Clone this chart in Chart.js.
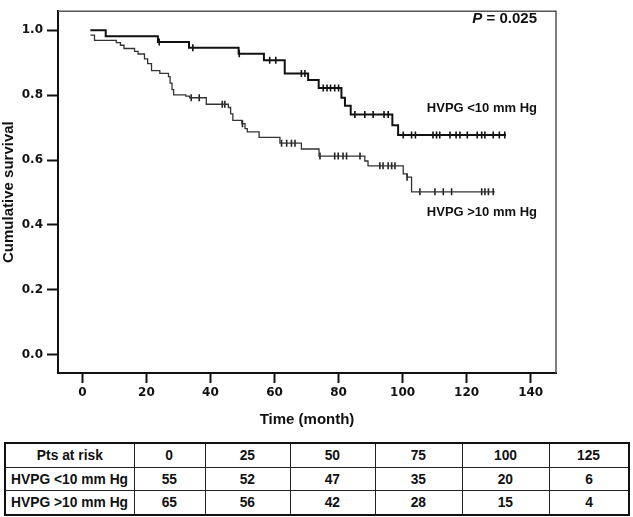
<!DOCTYPE html>
<html>
<head>
<meta charset="utf-8">
<script src="https://cdn.jsdelivr.net/npm/chart.js@4.4.0/dist/chart.umd.min.js"></script>
<style>
  html, body { margin:0; padding:0; background:#fff; }
  body { width:633px; height:517px; position:relative; overflow:hidden; font-family:"Liberation Sans", Arial, sans-serif; }
  #wrap { position:absolute; left:0; top:0; width:633px; height:441px; }
  table.risk { position:absolute; left:4px; top:442px; border-collapse:collapse; table-layout:fixed; width:624px; border:2px solid #111; }
  table.risk td { border:1px solid #222; height:22.5px; padding:0; text-align:center; font-weight:bold; font-size:15px; color:#111; line-height:20px; white-space:nowrap; overflow:visible; }
  table.risk td span { display:inline-block; transform:scaleX(0.92); transform-origin:center; }
</style>
</head>
<body>
<div id="wrap"><canvas id="c" width="633" height="441"></canvas></div>
<table class="risk" id="risk">
  <colgroup><col style="width:129px"><col style="width:71px"><col style="width:85px"><col style="width:85px"><col style="width:87px"><col style="width:87px"><col style="width:80px"></colgroup>
  <tbody></tbody>
</table>
<script>
// ---- data ----
const seriesLabels = ['HVPG <10 mm Hg', 'HVPG >10 mm Hg'];
const xTicks = [0, 20, 40, 60, 80, 100, 120, 140];
const yTicks = [0, 0.2, 0.4, 0.6, 0.8, 1.0];

const lowTime = [2.5, 7.3, 23.6, 33.3, 48.8, 56.7, 63.2, 70.5, 73.8, 80.9, 82.0, 83.8, 96.8, 98.6, 132.3];
const lowSurv = [1.0, 0.982, 0.964, 0.946, 0.928, 0.908, 0.867, 0.847, 0.822, 0.792, 0.767, 0.740, 0.707, 0.677, 0.677];
const lowCensor = [24.0, 34.5, 49.0, 58.5, 60.4, 68.4, 69.5, 75.2, 76.4, 77.5, 78.8, 80.0, 85.1, 88.2, 90.8, 94.2, 95.5,
  100.2, 102.8, 104.0, 109.5, 110.6, 111.6, 114.8, 116.7, 117.9, 120.2, 123.3, 124.7, 125.7, 128.3, 130.2, 131.9];

const highTime = [2.5, 3.8, 10.6, 11.9, 13.0, 16.3, 17.4, 19.4, 20.4, 21.6, 24.2, 26.9, 27.4, 28.0, 28.5, 32.3, 33.5, 38.7,
  45.6, 46.3, 47.0, 49.8, 50.8, 51.5, 55.2, 61.7, 68.4, 73.9, 88.2, 89.2, 100.2, 101.4, 102.8, 128.8];
const highSurv = [0.985, 0.969, 0.962, 0.954, 0.944, 0.935, 0.927, 0.912, 0.897, 0.876, 0.867, 0.857, 0.837, 0.817, 0.801, 0.797, 0.792, 0.772,
  0.762, 0.742, 0.722, 0.712, 0.697, 0.687, 0.670, 0.652, 0.634, 0.612, 0.597, 0.582, 0.557, 0.547, 0.502, 0.502];
const highCensor = [34.0, 36.5, 43.7, 44.5, 50.0, 62.2, 63.8, 65.3, 66.4, 74.2, 78.8, 79.9, 81.4, 82.5, 86.7, 92.9, 93.9, 95.5, 96.6, 97.6,
  101.4, 105.4, 110.1, 112.7, 115.3, 124.7, 125.7, 126.8, 128.3];

const riskHeader = ['Pts at risk', '0', '25', '50', '75', '100', '125'];
const riskLow = [55, 52, 47, 35, 20, 6];
const riskHigh = [65, 56, 42, 28, 15, 4];
const pText = '0.025';

// ---- table ----
const tb = document.querySelector('#risk tbody');
function addRow(cells) {
  const tr = document.createElement('tr');
  cells.forEach(c => {
    const td = document.createElement('td');
    const sp = document.createElement('span');
    sp.textContent = c;
    td.appendChild(sp);
    tr.appendChild(td);
  });
  tb.appendChild(tr);
}
addRow(riskHeader);
addRow([seriesLabels[0], ...riskLow]);
addRow([seriesLabels[1], ...riskHigh]);

// ---- helpers ----
function pts(t, s) { return t.map((x, i) => ({ x: x, y: s[i] })); }
function survAt(t, s, x) { let v = s[0]; for (let i = 0; i < t.length; i++) { if (t[i] <= x) v = s[i]; } return v; }
function censorPts(t, s, c) { return c.map(x => ({ x: x, y: survAt(t, s, x) })); }

const FONT = '"Liberation Sans", Arial, sans-serif';
const TICKFONT = '"DejaVu Sans", sans-serif';

const decor = {
  id: 'decor',
  afterDraw(chart) {
    const { ctx, chartArea: a } = chart;
    ctx.save();
    ctx.strokeStyle = '#555';
    ctx.lineWidth = 1.5;
    ctx.beginPath();
    ctx.moveTo(a.left, a.top);
    ctx.lineTo(a.right, a.top);
    ctx.lineTo(a.right, a.bottom);
    ctx.stroke();
    ctx.fillStyle = '#111';
    ctx.textBaseline = 'middle';
    ctx.textAlign = 'right';
    ctx.font = 'bold 15px ' + FONT;
    const rest = ' = ' + pText;
    ctx.fillText(rest, 537, 19);
    const w = ctx.measureText(rest).width;
    ctx.font = 'italic bold 15px ' + FONT;
    ctx.fillText('P', 537 - w, 19);
    ctx.font = 'bold 13px ' + FONT;
    ctx.fillText(seriesLabels[0], 537, 108);
    ctx.fillText(seriesLabels[1], 537, 212);
    ctx.restore();
  }
};

new Chart(document.getElementById('c'), {
  type: 'scatter',
  data: {
    datasets: [
      { label: seriesLabels[0], data: pts(lowTime, lowSurv), showLine: true, stepped: 'before', borderColor: '#111', borderWidth: 2, pointRadius: 0 },
      { label: seriesLabels[1], data: pts(highTime, highSurv), showLine: true, stepped: 'before', borderColor: '#333', borderWidth: 1.3, pointRadius: 0 },
      { label: 'c1', data: censorPts(lowTime, lowSurv, lowCensor), showLine: false, pointStyle: 'line', rotation: 90, pointRadius: 3.5, borderColor: '#111', borderWidth: 1.6 },
      { label: 'c2', data: censorPts(highTime, highSurv, highCensor), showLine: false, pointStyle: 'line', rotation: 90, pointRadius: 3.5, borderColor: '#222', borderWidth: 1.6 }
    ]
  },
  options: {
    responsive: false,
    animation: false,
    events: [],
    layout: { padding: { left: 0, right: 77, top: 1, bottom: 0 } },
    plugins: { legend: { display: false }, tooltip: { enabled: false } },
    scales: {
      x: {
        type: 'linear', min: -7.6, max: 147.9,
        afterBuildTicks: s => { s.ticks = xTicks.map(v => ({ value: v })); },
        afterFit: s => { s.height = 68; },
        grid: { drawOnChartArea: false, drawTicks: true, tickLength: 10, tickColor: '#111', tickWidth: 2 },
        border: { display: true, color: '#111', width: 2 },
        ticks: { font: { family: TICKFONT, size: 12, weight: 'bold' }, color: '#111', padding: 3, maxRotation: 0, autoSkip: false },
        title: { display: true, text: 'Time (month)', font: { family: FONT, size: 15, weight: 'bold' }, color: '#111', padding: { top: 0, bottom: 12 } }
      },
      y: {
        type: 'linear', min: -0.057, max: 1.059,
        afterBuildTicks: s => { s.ticks = yTicks.map(v => ({ value: v })); },
        afterFit: s => { s.width = 58; },
        grid: { drawOnChartArea: false, drawTicks: true, tickLength: 11, tickColor: '#111', tickWidth: 2 },
        border: { display: true, color: '#111', width: 2 },
        ticks: { font: { family: TICKFONT, size: 12, weight: 'bold' }, color: '#111', padding: 4, callback: v => Number(v).toFixed(1) },
        title: { display: true, text: 'Cumulative survival', font: { family: FONT, size: 15, weight: 'bold' }, color: '#111', padding: { top: 0, bottom: 0 } }
      }
    }
  },
  plugins: [decor]
});
</script>
</body>
</html>
